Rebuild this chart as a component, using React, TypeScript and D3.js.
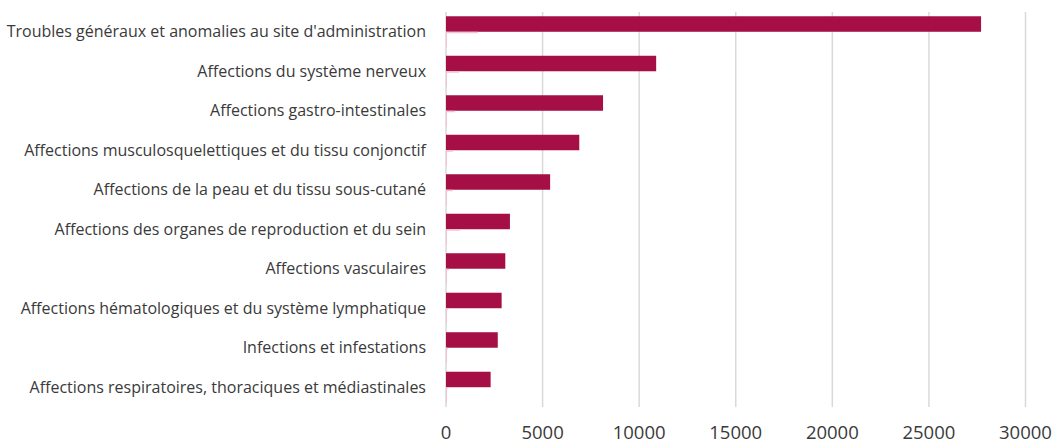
import React from "react";
import { scaleLinear, scaleBand } from "d3";

const categories = [
  "Troubles généraux et anomalies au site d'administration",
  "Affections du système nerveux",
  "Affections gastro-intestinales",
  "Affections musculosquelettiques et du tissu conjonctif",
  "Affections de la peau et du tissu sous-cutané",
  "Affections des organes de reproduction et du sein",
  "Affections vasculaires",
  "Affections hématologiques et du système lymphatique",
  "Infections et infestations",
  "Affections respiratoires, thoraciques et médiastinales",
];
// main series (crimson bars)
const mainValues = [27700, 10880, 8130, 6900, 5390, 3310, 3070, 2880, 2680, 2310];
// faint series drawn as a thin strip under the main bar
const faintValues = [1650, 680, 470, 360, 350, 720, 150, 120, 100, 80];
// tiny series in the second slot
const tinyValues = [50, 50, 50, 50, 50, 50, 50, 50, 50, 50];
const xTicks = [0, 5000, 10000, 15000, 20000, 25000, 30000];

const W = 1054;
const H = 444;

const App = () => {
  const x = scaleLinear().domain([0, 30000]).range([446, 1025.5]);
  const y = scaleBand<string>()
    .domain(categories)
    .range([12, 407])
    .paddingInner(0.215)
    .paddingOuter(0.108);
  const sub = scaleBand<string>()
    .domain(["main", "tiny"])
    .range([0, y.bandwidth()]);

  return (
    <svg
      width={W}
      height={H}
      style={{ position: "absolute", left: 0, top: 0, background: "#fff" }}
    >
      {xTicks.map((t) => (
        <line
          key={t}
          x1={x(t)}
          x2={x(t)}
          y1={12}
          y2={407}
          stroke="#d9d9d9"
          strokeWidth={1.5}
        />
      ))}
      {categories.map((c, i) => {
        const y0 = y(c) as number;
        return (
          <g key={c}>
            <rect
              x={x(0)}
              y={y0 + (sub("main") as number)}
              width={x(mainValues[i]) - x(0)}
              height={sub.bandwidth()}
              fill="#a50f45"
            />
            <rect
              x={x(0)}
              y={y0 + sub.bandwidth()}
              width={x(faintValues[i]) - x(0)}
              height={1.5}
              fill="#f2c3d1"
            />
            <rect
              x={x(0)}
              y={y0 + (sub("tiny") as number)}
              width={Math.max(1, x(tinyValues[i]) - x(0))}
              height={sub.bandwidth()}
              fill="#f2c3d1"
            />
            <text
              x={426}
              y={y0 + y.bandwidth() / 2 + 1}
              textAnchor="end"
              dominantBaseline="middle"
              fontFamily="'Open Sans', sans-serif"
              fontSize={16}
              fill="#3a3a3a"
            >
              {c}
            </text>
          </g>
        );
      })}
      {xTicks.map((t) => (
        <text
          key={"l" + t}
          x={x(t)}
          y={434}
          textAnchor="middle"
          dominantBaseline="middle"
          fontFamily="'Open Sans', sans-serif"
          fontSize={18.5}
          fill="#3a3a3a"
        >
          {t}
        </text>
      ))}
    </svg>
  );
};

export default App;
